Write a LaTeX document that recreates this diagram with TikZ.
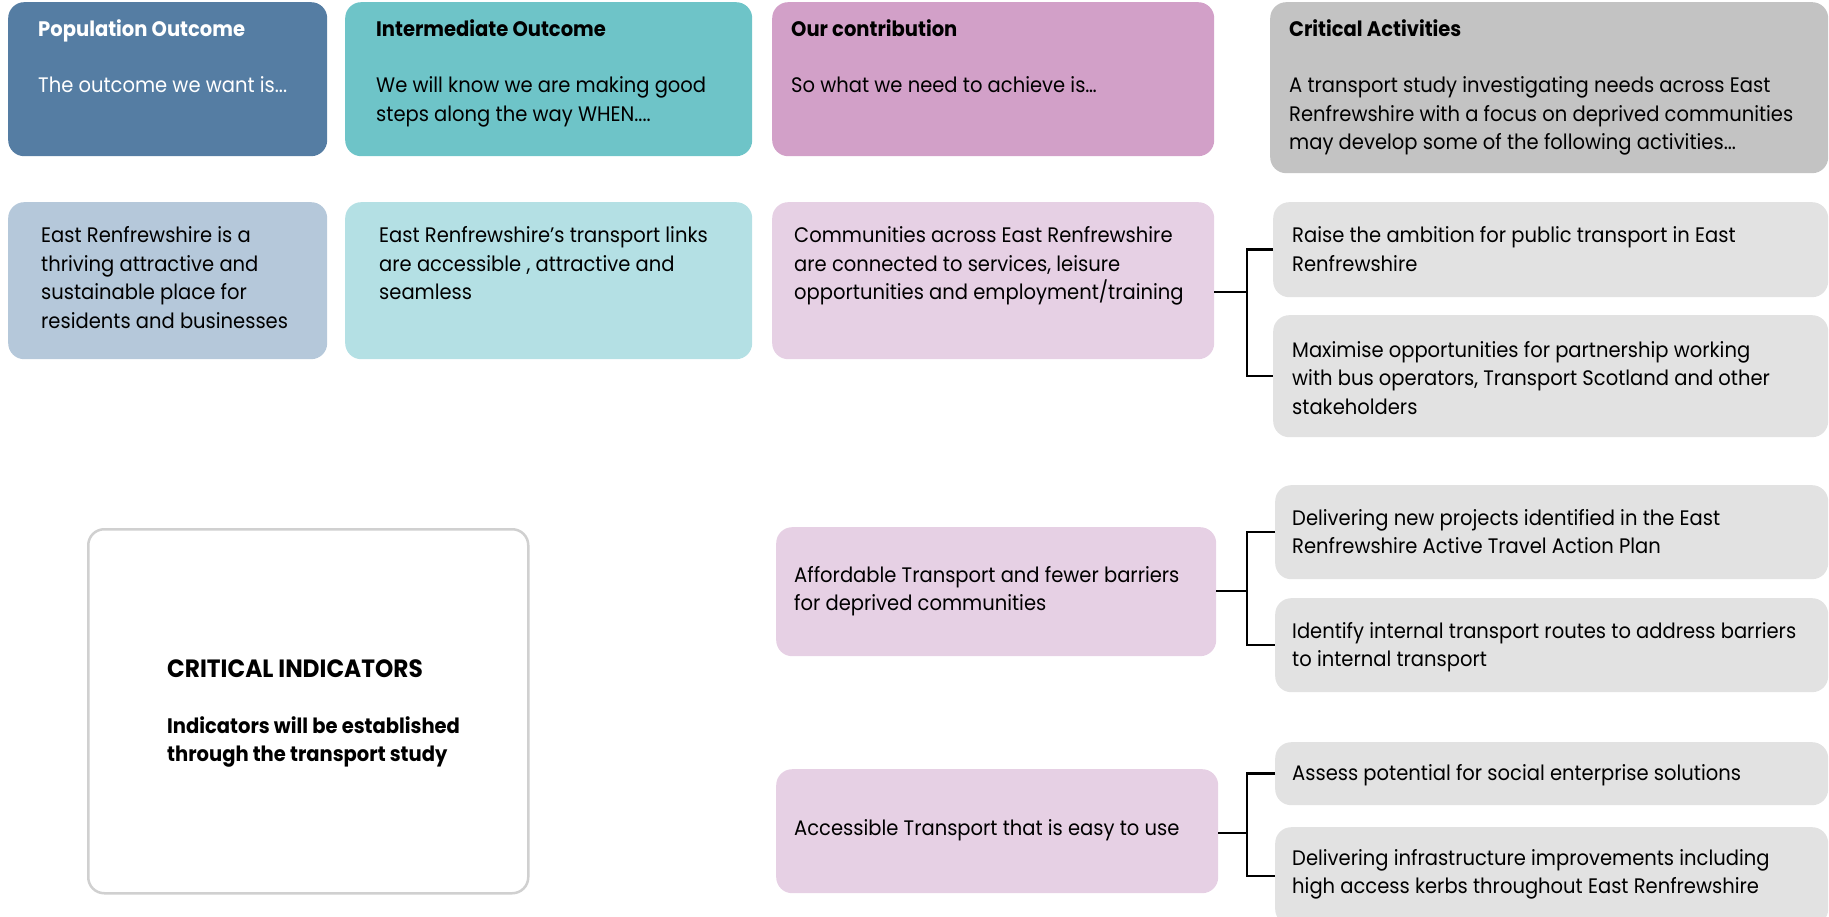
\documentclass[tikz,border=0pt]{standalone}
\usepackage{fontspec}
\setmainfont[FakeStretch=0.93]{Poppins}
\definecolor{popHead}{HTML}{557DA3}
\definecolor{intHead}{HTML}{6EC4C8}
\definecolor{conHead}{HTML}{D2A0C8}
\definecolor{actHead}{HTML}{C3C3C3}
\definecolor{popBody}{HTML}{B5C8DA}
\definecolor{intBody}{HTML}{B4E0E4}
\definecolor{conBody}{HTML}{E6D0E4}
\definecolor{actBody}{HTML}{E2E2E2}
\definecolor{indBorder}{HTML}{D0D0D0}
\tikzset{
  box/.style={rounded corners=16pt, inner sep=0pt, anchor=north west, draw=none},
  txt/.style={align=left, inner sep=0pt, anchor=base west, font=\fontsize{21}{28.5}\selectfont},
  ttl/.style={txt, font=\fontsize{21}{28.5}\selectfont\bfseries},
  conn/.style={draw=black, line width=2.5pt},
}
\newcommand{\bx}[6]{\node[box, fill=#6, minimum width={#4pt-#2pt}, minimum height={#5pt-#3pt}] (#1) at (#2,#3) {};}
\begin{document}
\begin{tikzpicture}[x=1pt,y=-1pt]
\useasboundingbox (0,0) rectangle (1829,917);
% header row (anchor base west = baseline of the last line)
\bx{popH}{8}{2}{327}{156}{popHead}
\bx{intH}{345}{2}{752}{156}{intHead}
\bx{conH}{772}{2}{1214}{156}{conHead}
\bx{actH}{1270}{2}{1828}{173}{actHead}
\node[ttl, text=white] (popHt) at (38,37) {Population Outcome};
\node[txt, text=white] (popHs) at (38,93) {The outcome we want is...};
\node[ttl] (intHt) at (376,37) {Intermediate Outcome};
\node[txt] (intHs) at (376,121.5) {We will know we are making good\\steps along the way WHEN....};
\node[ttl] (conHt) at (791,37) {Our contribution};
\node[txt] (conHs) at (791,93) {So what we need to achieve is…};
\node[ttl] (actHt) at (1289,37) {Critical Activities};
\node[txt] (actHs) at (1289,150) {A transport study investigating needs across East\\Renfrewshire with a focus on deprived communities\\may develop some of the following activities...};
% second row
\bx{popB}{8}{202}{327}{359}{popBody}
\bx{intB}{345}{202}{752}{359}{intBody}
\bx{comm}{772}{202}{1214}{359}{conBody}
\node[txt] (popBt) at (41,328.5) {East Renfrewshire is a\\thriving attractive and\\sustainable place for\\residents and businesses};
\node[txt] (intBt) at (379,300) {East Renfrewshire’s transport links\\are accessible , attractive and\\seamless};
\node[txt] (commt) at (794,300) {Communities across East Renfrewshire\\are connected to services, leisure\\opportunities and employment/training};
\bx{raise}{1273}{202}{1828}{297}{actBody}
\bx{maxi}{1273}{315}{1828}{437}{actBody}
\node[txt] (raiset) at (1292,271.5) {Raise the ambition for public transport in East\\Renfrewshire};
\node[txt] (maxit) at (1292,414) {Maximise opportunities for partnership working\\with bus operators, Transport Scotland and other\\stakeholders};
% third group
\bx{afford}{776}{527}{1216}{656}{conBody}
\node[txt] (affordt) at (794,610.5) {Affordable Transport and fewer barriers\\for deprived communities};
\bx{deliv}{1275}{485}{1828}{579}{actBody}
\bx{ident}{1275}{598}{1828}{692}{actBody}
\node[txt] (delivt) at (1292,553.5) {Delivering new projects identified in the East\\Renfrewshire Active Travel Action Plan};
\node[txt] (identt) at (1292,666.5) {Identify internal transport routes to address barriers\\to internal transport};
% fourth group
\bx{access}{776}{769}{1218}{893}{conBody}
\node[txt] (accesst) at (794,835) {Accessible Transport that is easy to use};
\bx{assess}{1275}{742}{1828}{805}{actBody}
\bx{infra}{1275}{827}{1828}{925}{actBody}
\node[txt] (assesst) at (1292,780) {Assess potential for social enterprise solutions};
\node[txt] (infrat) at (1292,893.5) {Delivering infrastructure improvements including\\high access kerbs throughout East Renfrewshire};
% indicators
\node[box, draw=indBorder, line width=2.5pt, fill=white, minimum width=440pt, minimum height=364pt] (ind) at (87,528) {};
\node[ttl, font=\fontsize{25}{30}\selectfont\bfseries] (indt) at (167,677) {CRITICAL INDICATORS};
\node[ttl] (inds) at (167,761.5) {Indicators will be established\\through the transport study};
% connectors
\coordinate (j1) at (1247,292);
\coordinate (j2) at (1247,591);
\coordinate (j3) at (1247,833);
\draw[conn] (comm.east |- j1) -- (j1);
\draw[conn] (raise.west) -| (j1) |- (maxi.west);
\draw[conn] (afford.east |- j2) -- (j2);
\draw[conn] (deliv.west) -| (j2) |- (ident.west);
\draw[conn] (access.east |- j3) -- (j3);
\draw[conn] (assess.west) -| (j3) |- (infra.west);
\end{tikzpicture}
\end{document}
